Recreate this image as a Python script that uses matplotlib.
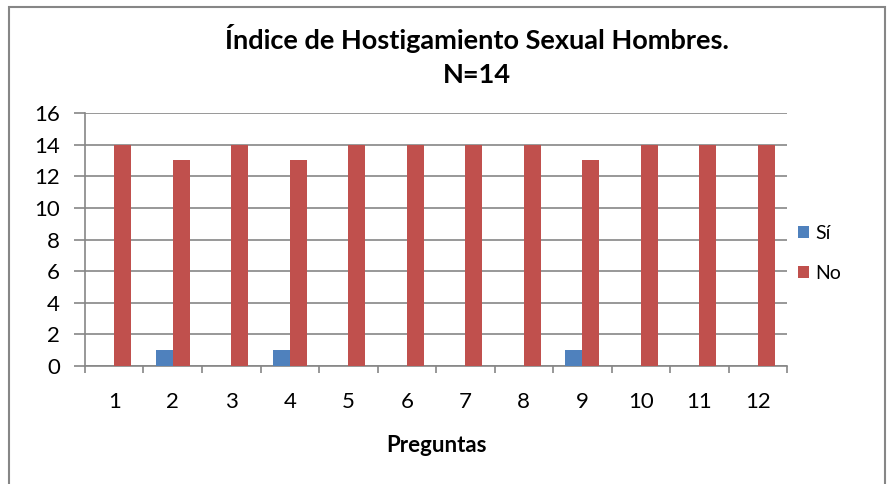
import matplotlib.pyplot as plt
import numpy as np
from matplotlib.patches import Rectangle

plt.rcParams["font.family"] = ["Lato", "DejaVu Sans"]

preguntas = ["1", "2", "3", "4", "5", "6", "7", "8", "9", "10", "11", "12"]
si = [0, 1, 0, 1, 0, 0, 0, 0, 1, 0, 0, 0]
no = [14, 13, 14, 13, 14, 14, 14, 14, 13, 14, 14, 14]

fig = plt.figure(figsize=(8.9, 4.84), dpi=100)
ax = fig.add_axes([0.0955, 0.2438, 0.7888, 0.5227])

x = np.arange(len(preguntas))
w = 0.29
ax.bar(x - w / 2, si, width=w, color="#4F81BD", label="Sí", zorder=3)
ax.bar(x + w / 2, no, width=w, color="#C0504D", label="No", zorder=3)

ax.set_xlim(-0.5, len(preguntas) - 0.5)
ax.set_ylim(0, 16)
ax.set_yticks(range(0, 17, 2))
ax.set_xticks(x)
ax.set_xticklabels(preguntas)
ax.set_xticks(np.arange(-0.5, len(preguntas)), minor=True)
ax.tick_params(axis="x", which="major", length=0, pad=19, labelsize=16)
ax.tick_params(axis="x", which="minor", length=5, color="#868686", width=1.2)
ax.tick_params(axis="y", length=8, color="#868686", width=1.2, labelsize=16, pad=10)
ax.grid(axis="y", color="#868686", linewidth=1.2, zorder=0)

for s in ["top", "right"]:
    ax.spines[s].set_visible(False)
for s in ["left", "bottom"]:
    ax.spines[s].set_color("#868686")
    ax.spines[s].set_linewidth(1.2)

ax.set_xlabel("Preguntas", fontsize=16, fontweight="bold", labelpad=16)
fig.text(0.536, 0.92, "Índice de Hostigamiento Sexual Hombres.", ha="center", va="center",
         fontsize=19.5, fontweight="bold")
fig.text(0.536, 0.845, "N=14", ha="center", va="center", fontsize=19.5, fontweight="bold")

ax.legend(loc="center left", bbox_to_anchor=(0.99, 0.445), frameon=False, fontsize=14,
          handlelength=0.6, handleheight=0.6, handletextpad=0.3, labelspacing=1.2)

fig.patches.append(Rectangle((9 / 890, -0.05), 876 / 890, 1.05 - 7 / 484, transform=fig.transFigure,
                             fill=False, edgecolor="#868686", linewidth=1.5))

fig.savefig("out.png", dpi=100)
